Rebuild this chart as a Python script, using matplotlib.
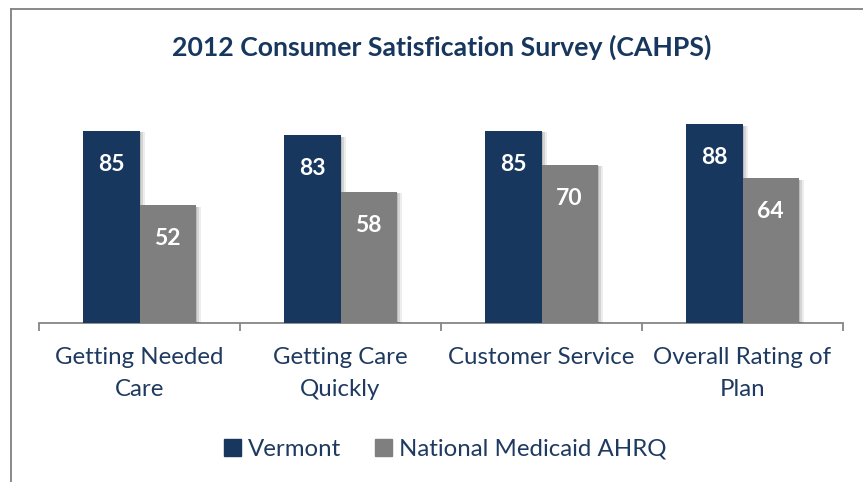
import numpy as np
import matplotlib.pyplot as plt
import matplotlib.patheffects as pe
from matplotlib.lines import Line2D
from matplotlib.patches import Patch

categories = ['Getting Needed\nCare', 'Getting Care\nQuickly', 'Customer Service', 'Overall Rating of\nPlan']
vermont = [85, 83, 85, 88]
national = [52, 58, 70, 64]
series_names = ['Vermont', 'National Medicaid AHRQ']

navy = '#17375E'
gray = '#7F7F7F'
text_col = '#1F3A60'

plt.rcParams['font.family'] = ['Lato', 'DejaVu Sans']

W, H = 863, 482
fig = plt.figure(figsize=(W / 100, H / 100), dpi=100)
ax = fig.add_axes([39 / W, 1 - 323 / H, (843 - 39) / W, (323 - 97) / H])

x = np.arange(len(categories))
bw = 0.28
shadow = [pe.SimplePatchShadow(offset=(4, -1), alpha=0.07, shadow_rgbFace='k'),
          pe.SimplePatchShadow(offset=(2.5, -1), alpha=0.1, shadow_rgbFace='k'),
          pe.SimplePatchShadow(offset=(1.2, -1), alpha=0.12, shadow_rgbFace='k'),
          pe.Normal()]
b1 = ax.bar(x - bw / 2, vermont, bw, color=navy, zorder=3, path_effects=shadow)
b2 = ax.bar(x + bw / 2, national, bw, color=gray, zorder=3, path_effects=shadow)

for bars, vals in [(b1, vermont), (b2, national)]:
    for r, v in zip(bars, vals):
        ax.annotate(str(v), (r.get_x() + r.get_width() / 2, v), xytext=(0, -24),
                    textcoords='offset points', ha='center', va='center',
                    color='white', fontsize=16.5, fontweight='bold', zorder=5)

ax.set_xlim(-0.5, 3.5)
ax.set_ylim(0, 100)
ax.set_xticks(np.arange(-0.5, 4, 1))
ax.set_xticklabels([''] * 5)
ax.set_xticks(x, minor=True)
ax.set_xticklabels(categories, minor=True, fontsize=17.3, color=text_col, linespacing=1.65)
ax.tick_params(axis='x', which='major', length=6, width=1.3, color='#868686', direction='out')
ax.tick_params(axis='x', which='minor', length=0, pad=17)
ax.set_yticks([])
for s in ['top', 'right', 'left']:
    ax.spines[s].set_visible(False)
ax.spines['bottom'].set_color('#868686')
ax.spines['bottom'].set_linewidth(1.3)

fig.text(442 / W, 1 - 47 / H, '2012 Consumer Satisfication Survey (CAHPS)', ha='center', va='center',
         fontsize=19.2, fontweight='bold', color=navy)

handles = [Patch(color=navy), Patch(color=gray)]
leg = fig.legend(handles, series_names, loc='center', bbox_to_anchor=(445 / W, 1 - 449 / H),
                 ncol=2, frameon=False, fontsize=17.3, handlelength=0.7, handleheight=0.7,
                 handletextpad=0.3, columnspacing=1.4)
for t in leg.get_texts():
    t.set_color(text_col)

fig.add_artist(Line2D([11 / W, 11 / W], [0, 1 - 9 / H], color='#808080', lw=1.3))
fig.add_artist(Line2D([11 / W, 1], [1 - 9 / H, 1 - 9 / H], color='#808080', lw=1.3))

fig.savefig('out.png', dpi=100)
